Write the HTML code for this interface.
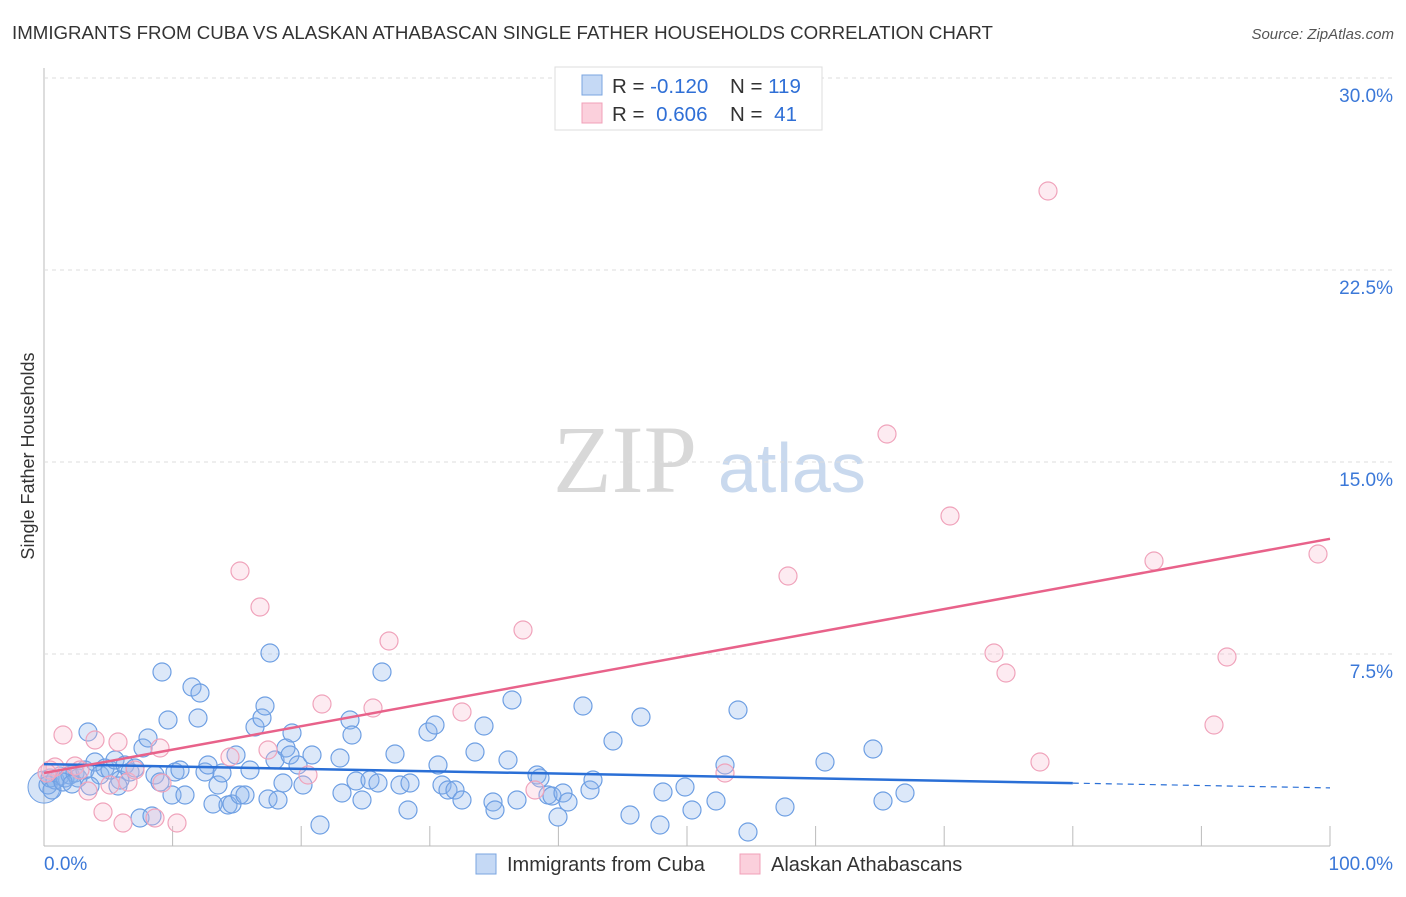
<!DOCTYPE html>
<html><head><meta charset="utf-8"><style>
body{margin:0;background:#fff;font-family:"Liberation Sans",sans-serif;}
</style></head><body>
<svg id="c" width="1406" height="892" xmlns="http://www.w3.org/2000/svg" font-family="Liberation Sans, sans-serif">
<text x="12" y="39" font-size="18.7" fill="#333">IMMIGRANTS FROM CUBA VS ALASKAN ATHABASCAN SINGLE FATHER HOUSEHOLDS CORRELATION CHART</text>
<text x="1394" y="39" font-size="15" fill="#555" font-style="italic" text-anchor="end">Source: ZipAtlas.com</text>
<text x="34" y="456" font-size="18" fill="#333" text-anchor="middle" transform="rotate(-90 34 456)">Single Father Households</text>
<g>
<text x="553" y="492" font-size="96" fill="#d8d8d8" style="font-family:'Liberation Serif',serif">ZIP</text>
<text x="718" y="492" font-size="70" fill="#c9d9ee">atlas</text>
</g>
<g id="grid"></g><g id="pts"></g><g id="lines"></g>
<g>
<rect x="555" y="67" width="267" height="63" fill="#fff" stroke="#ddd"/>
<rect x="582" y="75" width="20" height="20" fill="#c5d9f5" stroke="#7aa5e0"/>
<rect x="582" y="103" width="20" height="20" fill="#fbd0dc" stroke="#f0a0b8"/>
<text x="612" y="93" font-size="20.5" fill="#333">R = <tspan fill="#2f6fd6">-0.120</tspan></text>
<text x="730" y="93" font-size="20.5" fill="#333">N = <tspan fill="#2f6fd6">119</tspan></text>
<text x="612" y="121" font-size="20.5" fill="#333">R = <tspan fill="#2f6fd6" dx="6">0.606</tspan></text>
<text x="730" y="121" font-size="20.5" fill="#333">N = <tspan fill="#2f6fd6" dx="6">41</tspan></text>
</g>
<g>
<rect x="476" y="854" width="20" height="20" fill="#c5d9f5" stroke="#7aa5e0"/>
<text x="507" y="871" font-size="20" fill="#333">Immigrants from Cuba</text>
<rect x="740" y="854" width="20" height="20" fill="#fbd0dc" stroke="#f0a0b8"/>
<text x="771" y="871" font-size="20" fill="#333">Alaskan Athabascans</text>
</g>
</svg>
<script>
const yTicks=[7.5,15,22.5,30];
const yTickLabels=["7.5%","15.0%","22.5%","30.0%"];
const xTicks=[0,10,20,30,40,50,60,70,80,90,100];
const xEndLabels=["0.0%","100.0%"];
const bluePx=[[48,785],[50,778],[55,780],[60,776],[65,778],[70,775],[75,773],[78,778],[85,770],[88,732],[95,762],[100,775],[105,768],[110,770],[115,760],[120,780],[125,765],[130,772],[135,768],[140,818],[143,748],[148,738],[152,816],[155,775],[160,782],[162,672],[168,720],[172,795],[175,772],[180,770],[185,795],[192,687],[198,718],[200,693],[205,772],[208,765],[213,804],[218,785],[222,773],[228,805],[232,804],[236,755],[240,795],[245,795],[250,770],[255,727],[262,718],[265,706],[268,799],[270,653],[275,760],[278,800],[283,783],[286,748],[290,755],[292,733],[298,765],[303,785],[312,755],[320,825],[340,758],[342,793],[350,720],[352,735],[356,781],[362,800],[370,780],[378,783],[382,672],[395,754],[400,785],[410,783],[408,810],[428,732],[435,725],[438,765],[442,785],[448,790],[455,790],[462,800],[475,752],[484,726],[493,802],[495,810],[508,760],[512,700],[517,800],[537,775],[540,778],[548,795],[552,796],[558,817],[563,793],[568,802],[583,706],[590,790],[593,780],[613,741],[630,815],[641,717],[660,825],[663,792],[685,787],[692,810],[716,801],[725,765],[738,710],[748,832],[785,807],[825,762],[873,749],[883,801],[905,793],[52,790],[63,782],[72,784],[90,786],[118,786]];
const pinkPx=[[50,770],[55,767],[63,735],[75,766],[80,770],[88,791],[95,740],[103,812],[110,785],[118,742],[123,823],[128,782],[135,770],[155,818],[160,748],[162,783],[177,823],[230,757],[240,571],[260,607],[268,750],[308,775],[322,704],[373,708],[389,641],[462,712],[523,630],[535,790],[725,773],[788,576],[887,434],[950,516],[994,653],[1006,673],[1040,762],[1048,191],[1154,561],[1214,725],[1227,657],[1318,554],[47,773]];
const blueX=bluePx.map(p=>(p[0]-44)/12.86), blueY=bluePx.map(p=>(846-p[1])/25.6);
const pinkX=pinkPx.map(p=>(p[0]-44)/12.86), pinkY=pinkPx.map(p=>(846-p[1])/25.6);
const blueTrend=[3.2,2.27]; const pinkTrend=[2.85,12.0];
const X=v=>44+v*12.86, Y=v=>846-v*25.6;
const NS="http://www.w3.org/2000/svg";
function mk(t,a,parent){const e=document.createElementNS(NS,t);for(const k in a)e.setAttribute(k,a[k]);parent.appendChild(e);return e;}
const grid=document.getElementById('grid');
mk('line',{x1:44,y1:68,x2:44,y2:846,stroke:'#bbb'},grid);
mk('line',{x1:44,y1:846,x2:1330,y2:846,stroke:'#bbb'},grid);
yTicks.forEach((t,i)=>{
 const g=mk('line',{x1:44,y1:Y(t),x2:1394,y2:Y(t),stroke:'#ddd','stroke-dasharray':'4,4'},grid);
 
 
 const l=mk('text',{x:1393,y:Y(t)+24,'font-size':19,fill:'#3b78d8','text-anchor':'end'},grid);l.textContent=yTickLabels[i];
 
 
});
xTicks.forEach(t=>{if(t>0){const tk=mk('line',{x1:X(t),y1:826,x2:X(t),y2:846,stroke:'#bbb'},grid);
 
 }});
const xl0=mk('text',{x:44,y:870,'font-size':19,fill:'#3b78d8'},grid);xl0.textContent=xEndLabels[0];


const xl1=mk('text',{x:1393,y:870,'font-size':19,fill:'#3b78d8','text-anchor':'end'},grid);xl1.textContent=xEndLabels[1];


const pts=document.getElementById('pts');
const big=mk('circle',{cx:X(0),cy:Y(2.3),r:16,fill:'rgba(120,165,230,0.3)',stroke:'#6e9fe3'},pts);


blueX.forEach((x,i)=>{const c=mk('circle',{cx:X(x),cy:Y(blueY[i]),r:9,fill:'rgba(140,180,235,0.3)',stroke:'#6e9fe3','stroke-width':1.2},pts);
 
 });
pinkX.forEach((x,i)=>{const c=mk('circle',{cx:X(x),cy:Y(pinkY[i]),r:9,fill:'rgba(248,190,208,0.3)',stroke:'#f0a3bb','stroke-width':1.2},pts);
 
 });
const lines=document.getElementById('lines');
const bAt=v=>blueTrend[0]+(blueTrend[1]-blueTrend[0])*v/100;
const l1=mk('line',{x1:X(0),y1:Y(bAt(0)),x2:X(80),y2:Y(bAt(80)),stroke:'#2a6fd6','stroke-width':2.5},lines);


const l2=mk('line',{x1:X(80),y1:Y(bAt(80)),x2:X(100),y2:Y(bAt(100)),stroke:'#2a6fd6','stroke-width':1.2,'stroke-dasharray':'6,5'},lines);


const l3=mk('line',{x1:X(0),y1:Y(pinkTrend[0]),x2:X(100),y2:Y(pinkTrend[1]),stroke:'#e8628a','stroke-width':2.5},lines);


</script>
</body></html>
